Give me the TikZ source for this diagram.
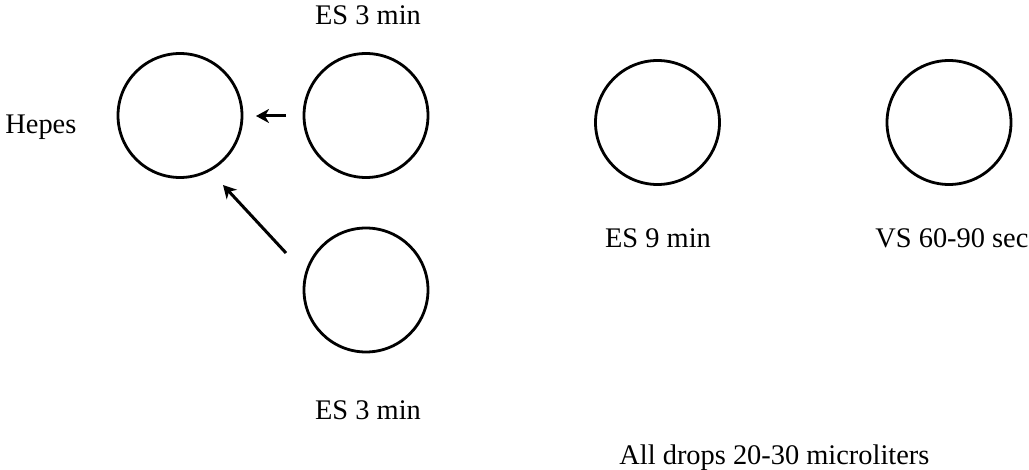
\documentclass[tikz,border=0pt]{standalone}
\usepackage{fontspec}
\setmainfont{Liberation Serif}
\usetikzlibrary{arrows.meta}
\begin{document}
\begin{tikzpicture}[x=0.5pt,y=-0.5pt,
  drop/.style={circle,draw,line width=1.4pt,minimum size=62pt,inner sep=0pt},
  lbl/.style={font=\fontsize{14.2}{17}\selectfont,inner sep=0pt},
  arr/.style={line width=1.5pt,-{Stealth[length=6.5pt,width=7pt,inset=2pt]}}]
\useasboundingbox (0,0) rectangle (1029,470);
\node[drop] (c1) at (180,115.5) {};
\node[drop] (c2) at (366,115.5) {};
\node[drop] (c3) at (366,290) {};
\node[drop] (c4) at (657.5,122.5) {};
\node[drop] (c5) at (949,122.5) {};
\node[lbl] (t1) at (368,15) {ES 3 min};
\node[lbl,anchor=west] (t2) at (5,127) {Hepes};
\node[lbl] (t3) at (368,410) {ES 3 min};
\node[lbl] (t4) at (658,238) {ES 9 min};
\node[lbl,anchor=west] (t5) at (875,238) {VS 60-90 sec};
\node[lbl,anchor=west] (t6) at (619,458) {All drops 20-30 microliters};
\coordinate (a1s) at (286,116);
\coordinate (a1e) at (256,116);
\coordinate (a2s) at (286,253);
\coordinate (a2e) at (223,185);
\draw[arr] (a1s) -- (a1e);
\draw[arr] (a2s) -- (a2e);
\end{tikzpicture}
\end{document}
